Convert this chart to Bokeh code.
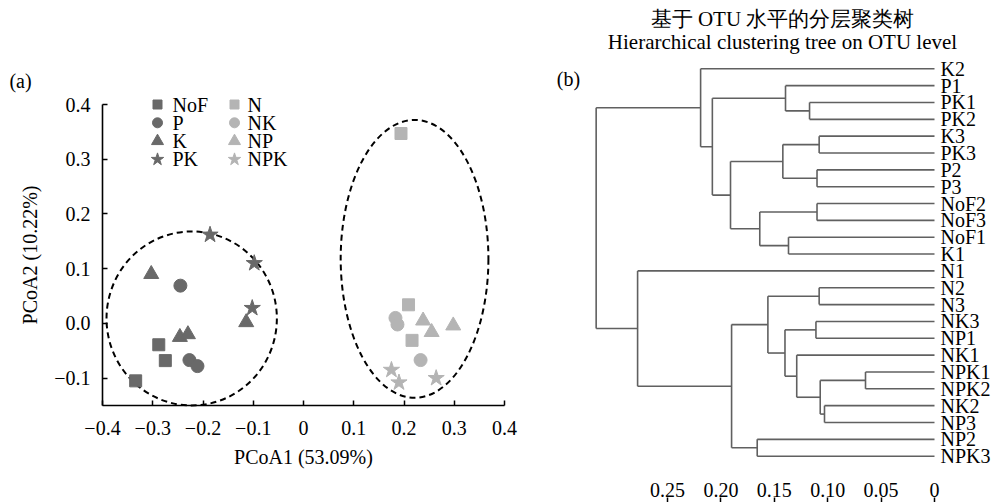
from bokeh.plotting import figure
from bokeh.layouts import row
from bokeh.models import Range1d, FixedTicker, Label
from bokeh.core.properties import value
from bokeh.embed import file_html
from bokeh.resources import INLINE

# ---------------- data: (a) PCoA ----------------
groups = ["NoF", "P", "K", "PK", "N", "NK", "NP", "NPK"]
group_marker = ["square", "circle", "triangle", "star", "square", "circle", "triangle", "star"]
group_shade = ["dark", "dark", "dark", "dark", "light", "light", "light", "light"]

nof_x = [-0.288, -0.275, -0.334]
nof_y = [-0.039, -0.068, -0.105]
p_x = [-0.245, -0.227, -0.211]
p_y = [0.069, -0.067, -0.078]
k_x = [-0.303, -0.246, -0.230, -0.114]
k_y = [0.090, -0.025, -0.020, 0.002]
pk_x = [-0.186, -0.098, -0.102]
pk_y = [0.162, 0.110, 0.028]
n_x = [0.194, 0.209, 0.216]
n_y = [0.347, 0.034, -0.031]
nk_x = [0.183, 0.187, 0.233]
nk_y = [0.010, -0.002, -0.067]
np_x = [0.238, 0.255, 0.298]
np_y = [0.005, -0.016, -0.004]
npk_x = [0.175, 0.190, 0.264]
npk_y = [-0.085, -0.108, -0.100]

cluster_cx = [-0.2225, 0.221]
cluster_cy = [0.009, 0.118]
cluster_w = [0.339, 0.294]
cluster_h = [0.318, 0.508]

pcoa_x_ticks = [-0.4, -0.3, -0.2, -0.1, 0.0, 0.1, 0.2, 0.3, 0.4]
pcoa_x_labels = ["\u22120.4", "\u22120.3", "\u22120.2", "\u22120.1", "0", "0.1", "0.2", "0.3", "0.4"]
pcoa_y_ticks = [-0.1, 0.0, 0.1, 0.2, 0.3, 0.4]
pcoa_y_labels = ["\u22120.1", "0.0", "0.1", "0.2", "0.3", "0.4"]

# ---------------- data: (b) dendrogram ----------------
leaves = ["K2", "P1", "PK1", "PK2", "K3", "PK3", "P2", "P3", "NoF2", "NoF3", "NoF1", "K1",
          "N1", "N2", "N3", "NK3", "NP1", "NK1", "NPK1", "NPK2", "NK2", "NP3", "NP2", "NPK3"]
merge_a = [2, 1, 4, 6, 26, 8, 10, 29, 28, 25, 0, 13, 15, 18, 20, 37, 17, 36, 35, 22, 42, 12, 34]
merge_b = [3, 24, 5, 7, 27, 9, 11, 30, 31, 32, 33, 14, 16, 19, 21, 38, 39, 40, 41, 23, 43, 44, 45]
merge_h = [0.117, 0.1395, 0.108, 0.110, 0.142, 0.110, 0.1367, 0.1636, 0.191, 0.208, 0.219,
           0.108, 0.111, 0.0646, 0.103, 0.107, 0.129, 0.140, 0.156, 0.166, 0.190, 0.278, 0.3168]
dist_ticks = [0.25, 0.20, 0.15, 0.10, 0.05, 0.0]
dist_labels = ["0.25", "0.20", "0.15", "0.10", "0.05", "0"]

title_cn = "基于 OTU 水平的分层聚类树"
title_en = "Hierarchical clustering tree on OTU level"

# ---------------- styles ----------------
FONT = "Liberation Serif"
FS = "20px"
DARK = "#696969"
LIGHT = "#b4b4b4"
TREE = "#606060"

series_x = [nof_x, p_x, k_x, pk_x, n_x, nk_x, np_x, npk_x]
series_y = [nof_y, p_y, k_y, pk_y, n_y, nk_y, np_y, npk_y]
plot_size = {"square": 12, "circle": 13, "triangle": 15, "star": 17}
legend_size = {"square": 9, "circle": 10, "triangle": 12, "star": 13}

W, H = 993, 502
LW = 550
RW = W - LW

# ---------------- (a) figure: whole canvas is the frame, axes at fixed places ----------------
XMIN, XMAX, YMIN, YMAX = -0.4, 0.4, -0.15, 0.4
AX0, AX1, AY0, AY1 = 102, 504, 104, 405       # pixel positions of the axis box
kx = (AX1 - AX0) / (XMAX - XMIN)
ky = (AY1 - AY0) / (YMAX - YMIN)

def lx(px):
    return XMIN + (px - AX0) / kx

def ly(py):
    return YMAX - (py - AY0) / ky

p1 = figure(width=LW, height=H, x_range=Range1d(lx(0), lx(LW)), y_range=Range1d(ly(H), ly(0)),
            output_backend="svg", toolbar_location=None, min_border=0)
p1.outline_line_color = None
p1.xgrid.visible = False
p1.ygrid.visible = False

p1.xaxis.ticker = FixedTicker(ticks=pcoa_x_ticks)
p1.xaxis.major_label_overrides = dict(zip(pcoa_x_ticks, pcoa_x_labels))
p1.yaxis.ticker = FixedTicker(ticks=pcoa_y_ticks)
p1.yaxis.major_label_overrides = dict(zip(pcoa_y_ticks, pcoa_y_labels))
p1.xaxis.fixed_location = YMIN
p1.xaxis.bounds = (XMIN, XMAX)
p1.yaxis.fixed_location = XMIN
p1.yaxis.bounds = (YMIN, YMAX)
p1.xaxis.axis_label = "PCoA1 (53.09%)"
p1.yaxis.axis_label = "PCoA2 (10.22%)"
for ax in (p1.xaxis[0], p1.yaxis[0]):
    ax.axis_line_color = "black"
    ax.axis_line_width = 1.6
    ax.major_tick_in = 5
    ax.major_tick_out = 0
    ax.major_tick_line_color = "black"
    ax.major_tick_line_width = 1.5
    ax.minor_tick_line_color = None
    ax.major_label_text_font = FONT
    ax.major_label_text_font_size = FS
    ax.major_label_text_color = "black"
    ax.axis_label_text_font = FONT
    ax.axis_label_text_font_size = FS
    ax.axis_label_text_font_style = "normal"
    ax.axis_label_text_color = "black"
p1.xaxis.major_label_standoff = 15
p1.yaxis.major_label_standoff = 12
p1.xaxis.axis_label_standoff = 8
p1.yaxis.axis_label_standoff = 10

p1.ellipse(x=cluster_cx, y=cluster_cy, width=cluster_w, height=cluster_h,
           fill_color=None, line_color="black", line_width=2, line_dash="6 4")

for g, m, s, xs, ys in zip(groups, group_marker, group_shade, series_x, series_y):
    col = DARK if s == "dark" else LIGHT
    p1.scatter(x=xs, y=ys, marker=m, size=plot_size[m], fill_color=col, line_color=col)

# compact legend (two columns, four rows)
leg_marker_px = [157, 234]
leg_text_px = [172, 247]
leg_row0, leg_dy = 104, 18.3
for i, (g, m, s) in enumerate(zip(groups, group_marker, group_shade)):
    c, r = i // 4, i % 4
    col = DARK if s == "dark" else LIGHT
    yy = ly(leg_row0 + r * leg_dy)
    p1.scatter(x=[lx(leg_marker_px[c])], y=[yy], marker=m, size=legend_size[m],
               fill_color=col, line_color=col)
    p1.text(x=[lx(leg_text_px[c])], y=[yy], text=[g], text_font=value(FONT),
            text_font_size=FS, text_baseline="middle", text_align="left", text_color="black")

p1.add_layout(Label(x=lx(20), y=ly(80), text="(a)", text_font=FONT, text_font_size=FS,
                    text_align="center", text_baseline="middle", text_color="black"))

# ---------------- (b) figure: whole canvas is the frame ----------------
LEAF_END_PX = 934 - LW        # distance 0, in this figure's pixels
PX_PER_D = 1068.0
LEAF0_PY, LEAF_DY = 68.3, 16.843
n_leaf = len(leaves)

def rx(px):
    return (LEAF_END_PX - (px - LW)) / PX_PER_D

def ry(py):
    return (py - LEAF0_PY) / LEAF_DY

p2 = figure(width=RW, height=H, x_range=Range1d(rx(LW), rx(W)), y_range=Range1d(ry(H), ry(0)),
            x_axis_location="above", y_axis_location="right",
            output_backend="svg", toolbar_location=None, min_border=0)
p2.outline_line_color = None
p2.xgrid.visible = False
p2.ygrid.visible = False

yax = p2.yaxis[0]
yax.fixed_location = 0.0
yax.ticker = FixedTicker(ticks=list(range(n_leaf)))
yax.major_label_overrides = {i: name for i, name in enumerate(leaves)}
yax.axis_line_color = None
yax.major_tick_in = 0
yax.major_tick_out = 0
yax.minor_tick_line_color = None
yax.major_label_standoff = 6
yax.major_label_text_font = FONT
yax.major_label_text_font_size = FS
yax.major_label_text_color = "black"

xax = p2.xaxis[0]
xax.fixed_location = ry(497)
xax.ticker = FixedTicker(ticks=dist_ticks)
xax.major_label_overrides = dict(zip(dist_ticks, dist_labels))
xax.axis_line_color = None
xax.major_tick_in = 6
xax.major_tick_out = 0
xax.major_tick_line_color = "black"
xax.major_tick_line_width = 1.5
xax.minor_tick_line_color = None
xax.major_label_standoff = 1
xax.major_label_text_font = FONT
xax.major_label_text_font_size = FS
xax.major_label_text_color = "black"

# build dendrogram segments from the merge table
node_x = [0.0] * n_leaf
node_y = [float(i) for i in range(n_leaf)]
sx0, sy0, sx1, sy1 = [], [], [], []
for a, b, h in zip(merge_a, merge_b, merge_h):
    for c in (a, b):
        sx0.append(node_x[c]); sy0.append(node_y[c]); sx1.append(h); sy1.append(node_y[c])
    sx0.append(h); sy0.append(node_y[a]); sx1.append(h); sy1.append(node_y[b])
    node_x.append(h)
    node_y.append((node_y[a] + node_y[b]) / 2.0)
p2.segment(x0=sx0, y0=sy0, x1=sx1, y1=sy1, line_color=TREE, line_width=1.6)

p2.add_layout(Label(x=rx(782), y=ry(18), text=title_cn, text_font=FONT, text_font_size="21px",
                    text_align="center", text_baseline="middle", text_color="black"))
p2.add_layout(Label(x=rx(782), y=ry(41), text=title_en, text_font=FONT, text_font_size="21px",
                    text_align="center", text_baseline="middle", text_color="black"))
p2.add_layout(Label(x=rx(568), y=ry(78), text="(b)", text_font=FONT, text_font_size=FS,
                    text_align="center", text_baseline="middle", text_color="black"))

layout = row(p1, p2)
open("out.html", "w").write(file_html(layout, INLINE))
